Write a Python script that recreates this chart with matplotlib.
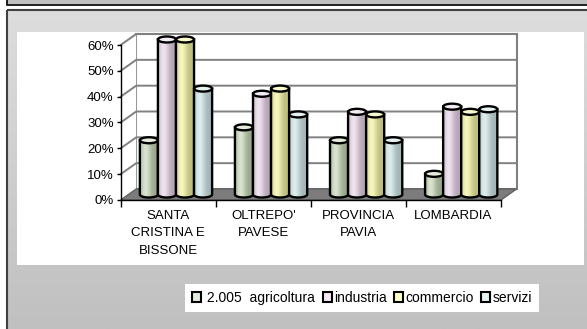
import numpy as np
import matplotlib.pyplot as plt
from matplotlib.patches import Rectangle, Polygon, Ellipse, Patch
from matplotlib.colors import LinearSegmentedColormap, to_rgb
from matplotlib.ticker import PercentFormatter, FixedLocator

plt.rcParams['font.family'] = ['Liberation Sans', 'DejaVu Sans']

categories = ["SANTA\nCRISTINA E\nBISSONE", "OLTREPO'\nPAVESE", "PROVINCIA\nPAVIA", "LOMBARDIA"]
series = [" 2.005  agricoltura", "industria", "commercio", "servizi"]
agricoltura = [0.21, 0.26, 0.21, 0.08]
industria = [0.60, 0.39, 0.32, 0.34]
commercio = [0.60, 0.41, 0.31, 0.32]
servizi = [0.41, 0.31, 0.21, 0.33]
values = [agricoltura, industria, commercio, servizi]
yticks = [0, 0.1, 0.2, 0.3, 0.4, 0.5, 0.6]

light = ['#d8e2cc', '#eee2ee', '#f6f6bc', '#dcecec']
dark = ['#98a48c', '#b4a4b4', '#bcbc7e', '#a2b4b6']
legend_fill = ['#e0ecd8', '#f4e8f4', '#ffffc4', '#e4f2f2']

W, H = 587, 329
fig = plt.figure(figsize=(W / 100, H / 100), dpi=100)

# background: page strip, grey frame with gradient, white plot area
bg = fig.add_axes([0, 0, 1, 1])
bg.set_xlim(0, W)
bg.set_ylim(H, 0)
bg.axis('off')
bg.add_patch(Rectangle((7, -3), W, 7.5, facecolor='#c0c0c0', edgecolor='black', lw=1.2))
grad = np.linspace(0, 1, 200)[:, None]
cmap = LinearSegmentedColormap.from_list('frame', ['#dddddd', '#c0c0c0'])
bg.imshow(grad, extent=(7, W + 2, H, 9.5), cmap=cmap, aspect='auto', zorder=0)
bg.add_patch(Rectangle((7, 9.5), W, H, facecolor='none', edgecolor='#404040', lw=1.5, zorder=1))
bg.add_patch(Rectangle((17, 32), 567, 233, facecolor='white', edgecolor='none', zorder=1))
bg.set_xlim(0, W)
bg.set_ylim(H, 0)

left, right, bottom, top = 120.7, 501, 200, 45
ax = fig.add_axes([left / W, 1 - bottom / H, (right - left) / W, (bottom - top) / H])
ax.set_facecolor('none')
ax.set_xlim(-0.5, 3.5)
ax.set_ylim(0, 0.6)

# depth of the 3d box, in data units
DX = 15.5 * 4 / (right - left)
DY = 11 * 0.6 / (bottom - top)
grid_c = '#808080'

ax.add_patch(Rectangle((-0.5 + DX, DY), 4, 0.6, facecolor='white', edgecolor=grid_c,
                       lw=1.5, clip_on=False, zorder=1))
ax.add_patch(Polygon([(-0.5, 0), (-0.5 + DX, DY), (-0.5 + DX, 0.6 + DY), (-0.5, 0.6)],
                     facecolor='white', edgecolor='none', clip_on=False, zorder=1))
for y in yticks[1:]:
    ax.plot([-0.5, -0.5 + DX, 3.5 + DX], [y, y + DY, y + DY], color=grid_c, lw=1.4,
            clip_on=False, zorder=1.5)
ax.add_patch(Polygon([(-0.5, 0), (3.5, 0), (3.5 + DX, DY), (-0.5 + DX, DY)],
                     facecolor='#7c7c7c', edgecolor='#606060', lw=1, clip_on=False, zorder=2))


def shade(lc, dc, t):
    f = np.exp(-((t - 0.32) / 0.3) ** 2)
    a, b = np.array(to_rgb(dc)), np.array(to_rgb(lc))
    return tuple(a + (b - a) * f)


def cylinder(xc, y0, h, w, eh, lc, dc, z):
    t = np.linspace(np.pi, 2 * np.pi, 40)
    arc = np.column_stack([xc + w / 2 * np.cos(t), y0 + eh / 2 * np.sin(t)])
    verts = np.vstack([[xc - w / 2, y0 + h], arc, [xc + w / 2, y0 + h]])
    body = Polygon(verts, closed=True, facecolor='none', edgecolor='black', lw=1.7,
                   clip_on=False, zorder=z + 0.02)
    ax.add_patch(body)
    n = 18
    xs = np.linspace(xc - w / 2, xc + w / 2, n + 1)
    for k in range(n):
        strip = Rectangle((xs[k], y0 - eh), xs[k + 1] - xs[k], h + eh,
                          facecolor=shade(lc, dc, (k + 0.5) / n), edgecolor='none', zorder=z)
        ax.add_patch(strip)
        strip.set_clip_path(body)
        strip.set_clip_box(None)
    top_c = tuple(np.array(to_rgb(lc)) * 0.7 + 0.3)
    ax.add_patch(Ellipse((xc, y0 + h), w, eh, facecolor=top_c, edgecolor='black', lw=1.7,
                         clip_on=False, zorder=z + 0.03))


bw = 0.19
eh = 6 * 0.6 / (bottom - top)
for i in range(len(categories)):
    for j, vals in enumerate(values):
        xc = i - 2 * bw + (j + 0.5) * bw + DX / 2
        cylinder(xc, DY / 2, vals[i], bw, eh, light[j], dark[j], 3 + (i * 4 + j) * 0.1)

for s in ['top', 'right']:
    ax.spines[s].set_visible(False)
for s in ['left', 'bottom']:
    ax.spines[s].set_color('black')
    ax.spines[s].set_linewidth(1)
    ax.spines[s].set_zorder(10)

ax.yaxis.set_major_locator(FixedLocator(yticks))
ax.yaxis.set_major_formatter(PercentFormatter(1.0, decimals=0))
ax.tick_params(axis='y', direction='out', length=3, width=1, labelsize=9.5, pad=2)
ax.set_xticks([-0.5, 0.5, 1.5, 2.5, 3.5])
ax.set_xticklabels([])
ax.set_xticks(range(len(categories)), minor=True)
ax.set_xticklabels(categories, minor=True, fontsize=9.5, linespacing=1.6)
ax.tick_params(axis='x', which='major', direction='out', length=5, width=1)
ax.tick_params(axis='x', which='minor', length=0, pad=7)

handles = [Patch(facecolor=c, edgecolor='black', lw=1.5) for c in legend_fill]
fig.legend(handles, series, loc='center', bbox_to_anchor=(362 / W, 1 - 298 / H), ncol=4,
           frameon=True, fancybox=False, edgecolor='none', facecolor='white', framealpha=1,
           fontsize=10, handlelength=0.65, handleheight=0.65, handletextpad=0.15,
           columnspacing=0.55, borderpad=0.5, borderaxespad=0)

fig.savefig('out.png', dpi=100)
